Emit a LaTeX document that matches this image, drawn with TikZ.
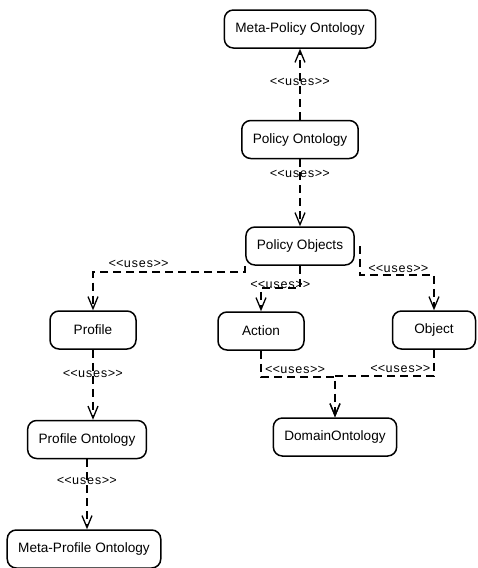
\documentclass[tikz,border=0pt]{standalone}
\usepackage{fontspec}
\setmainfont{Liberation Sans}
\setmonofont{Liberation Mono}
\usetikzlibrary{positioning,arrows.meta}

\begin{document}
\begin{tikzpicture}[
    x=1pt, y=-1pt,
    caja/.style={
        draw,
        line width=1.5pt,
        rounded corners=9pt,
        minimum height=38pt,
        inner xsep=11pt,
        font=\fontsize{13.6}{15}\selectfont
    },
    flecha/.style={
        line width=1.5pt,
        dash pattern=on 8pt off 5pt,
        -{Straight Barb[length=12pt,width=10pt,line width=1.3pt]}
    },
    usa/.style={font=\fontsize{12.5}{14}\ttfamily, inner sep=1pt}
]
\useasboundingbox (0,0) rectangle (478,568);

\node[caja] (mpo) at (300,29) {Meta-Policy Ontology};
\node[caja, below=71pt of mpo] (po) {Policy Ontology};
\node[caja, below=67pt of po] (pobj) {Policy Objects};

\node[caja, minimum width=86pt] (profile) at (93,330) {Profile};
\node[caja, minimum width=86pt] (action) at (261,331) {Action};
\node[caja, minimum width=83pt] (object) at (434,330) {Object};
\node[caja] (domain) at (335,437) {DomainOntology};

\node[caja, below=70pt of profile, xshift=-6pt] (pont) {Profile Ontology};
\node[caja, below=70pt of pont, xshift=-3pt] (mpro) {Meta-Profile Ontology};

% cadena superior
\draw[flecha] (po) -- node[usa, pos=0.53] {<<uses>>} (mpo);
\draw[flecha] (po) -- node[usa, pos=0.22] {<<uses>>} (pobj);

% desde Policy Objects
\draw[flecha] (pobj.south west) -- ++(0,6)
    -| node[usa, pos=0.35, above=2pt] {<<uses>>} (profile.north);
\draw[flecha] (pobj.south) -- ++(0,22)
    -| node[usa, pos=0.25, yshift=3pt] {<<uses>>} (action.north);
\draw[flecha] ([xshift=5pt]pobj.east) -- ++(0,29)
    -| node[usa, pos=0.26, above=1pt] {<<uses>>} (object.north);

% hacia DomainOntology
\draw[flecha] (action.south) -- ++(0,26)
    -| node[usa, pos=0.23, above=1pt] {<<uses>>} (domain.north);
\draw[flecha] (object.south) -- ++(0,26)
    -| node[usa, pos=0.17, above=1pt] {<<uses>>} (domain.north);

% rama izquierda
\draw[flecha] (profile.south) -- node[usa, pos=0.35] {<<uses>>} (profile.south |- pont.north);
\draw[flecha] (pont.south) -- node[usa, pos=0.31] {<<uses>>} (pont.south |- mpro.north);

\end{tikzpicture}
\end{document}
